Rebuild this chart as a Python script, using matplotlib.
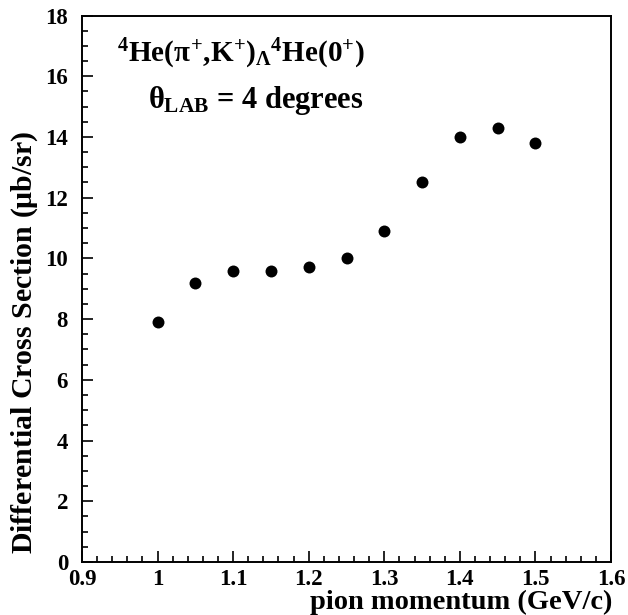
import numpy as np
import matplotlib
matplotlib.use("Agg")
import matplotlib.pyplot as plt
from matplotlib.ticker import MultipleLocator

# pion momentum (GeV/c) and differential cross section (ub/sr)
momentum = [1.00, 1.05, 1.10, 1.15, 1.20, 1.25, 1.30, 1.35, 1.40, 1.45, 1.50]
cross_section = [7.9, 9.2, 9.6, 9.6, 9.7, 10.0, 10.9, 12.5, 14.0, 14.3, 13.8]

x_ticks = [0.9, 1.0, 1.1, 1.2, 1.3, 1.4, 1.5, 1.6]
x_tick_labels = ["0.9", "1", "1.1", "1.2", "1.3", "1.4", "1.5", "1.6"]
y_ticks = [0, 2, 4, 6, 8, 10, 12, 14, 16, 18]

plt.rcParams["font.family"] = ["Liberation Serif", "DejaVu Serif"]
plt.rcParams["font.weight"] = "bold"
plt.rcParams["mathtext.fontset"] = "custom"
plt.rcParams["mathtext.rm"] = "Liberation Serif:bold"
plt.rcParams["mathtext.it"] = "Liberation Serif:bold"
plt.rcParams["mathtext.bf"] = "Liberation Serif:bold"

W, H = 628, 615
fig = plt.figure(figsize=(W / 100, H / 100), dpi=100)


def px(x, y):
    """pixel position (from top-left) -> figure fraction"""
    return x / W, 1 - y / H


left, top = px(82, 15.5)
right, bottom = px(611, 562)
ax = fig.add_axes([left, bottom, right - left, top - bottom])

ax.plot(momentum, cross_section, "o", color="black", markersize=8.6, markeredgewidth=0)

ax.set_xlim(0.9, 1.6)
ax.set_ylim(0, 18)
ax.set_xticks(x_ticks)
ax.set_xticklabels(x_tick_labels)
ax.set_yticks(y_ticks)
ax.xaxis.set_minor_locator(MultipleLocator(0.02))
ax.yaxis.set_minor_locator(MultipleLocator(0.5))

ax.tick_params(which="both", direction="in", top=False, right=False,
               labelsize=16.5, width=1.2)
ax.tick_params(which="major", length=8)
ax.tick_params(which="minor", length=4.3)
ax.tick_params(axis="x", pad=5)
ax.tick_params(axis="y", pad=10)
for lbl in ax.get_xticklabels() + ax.get_yticklabels():
    lbl.set_fontweight("bold")

for spine in ax.spines.values():
    spine.set_linewidth(1.4)

# axis titles, ROOT-style placement
fig.text(*px(612, 609), "pion momentum (GeV/c)", ha="right", va="baseline",
         fontsize=20.5, fontweight="bold")
fig.text(*px(25, 342), r"Differential Cross Section ($\mu$b/sr)", ha="center",
         va="center", rotation=90, fontsize=21.5, fontweight="bold")

# reaction label
fig.text(*px(117, 62),
         r"$^{4}$He($\pi^{+}$,K$^{+}$)$_{\Lambda}$$^{4}$He(0$^{+}$)",
         ha="left", va="baseline", fontsize=21, fontweight="bold")
fig.text(*px(148, 108), r"$\theta_{\mathrm{LAB}}$ = 4 degrees",
         ha="left", va="baseline", fontsize=22, fontweight="bold")

fig.savefig("out.png", dpi=100)
